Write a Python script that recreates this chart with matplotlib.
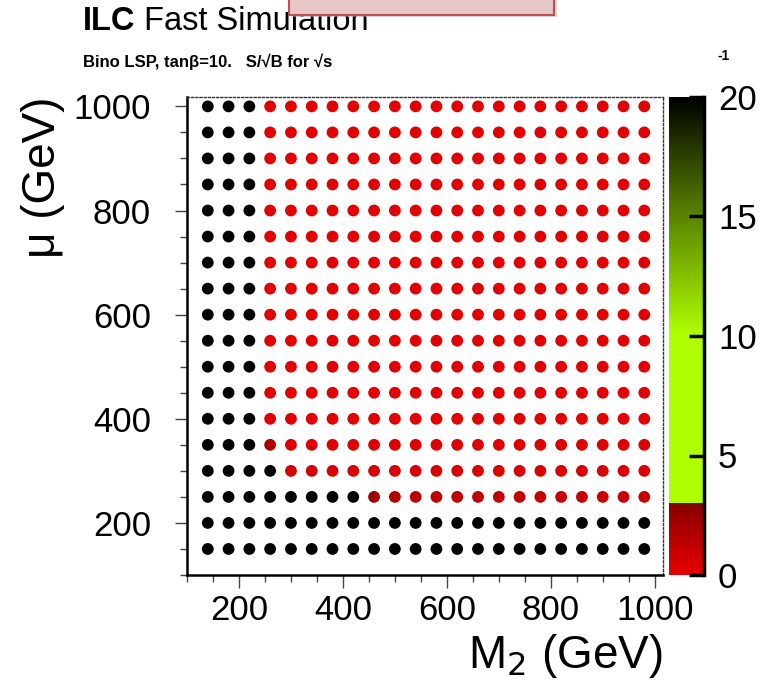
import numpy as np
import matplotlib
matplotlib.use('Agg')
import matplotlib.pyplot as plt
from matplotlib.colors import LinearSegmentedColormap, Normalize
from matplotlib.patches import Rectangle
from matplotlib.ticker import MultipleLocator

plt.rcParams['font.family'] = ['Liberation Sans', 'DejaVu Sans']

# scan grid (GeV)
m2_points = [140, 180, 220, 260, 300, 340, 380, 420, 460, 500, 540,
             580, 620, 660, 700, 740, 780, 820, 860, 900, 940, 980]
mu_points = [150, 200, 250, 300, 350, 400, 450, 500, 550,
             600, 650, 700, 750, 800, 850, 900, 950, 1000]

# S/sqrt(B) per mu row (values above 20 drawn as overflow -> black)
significance = [
    [30] * 22,                                                        # mu=150
    [30] * 22,                                                        # mu=200
    [30, 30, 30, 30, 30, 30, 30, 30, 2.2, 1.6, 1.4, 1.3, 1.3, 1.2,
     1.2, 1.2, 1.1, 1.1, 1.1, 1.0, 1.0, 1.0],                         # mu=250
    [30, 30, 30, 30, 0.6, 0.6, 0.5, 0.5, 0.5, 0.5, 0.4, 0.4, 0.4,
     0.4, 0.4, 0.4, 0.4, 0.4, 0.4, 0.4, 0.4, 0.4],                    # mu=300
    [30, 30, 30, 1.8, 0.3, 0.3, 0.3, 0.3, 0.3, 0.3, 0.3, 0.3, 0.3,
     0.3, 0.3, 0.3, 0.3, 0.3, 0.3, 0.3, 0.3, 0.3],                    # mu=350
    [30, 30, 30] + [0.2] * 19,                                        # mu=400
    [30, 30, 30] + [0.2] * 19,                                        # mu=450
    [30, 30, 30] + [0.2] * 19,                                        # mu=500
    [30, 30, 30] + [0.2] * 19,                                        # mu=550
    [30, 30, 30] + [0.2] * 19,                                        # mu=600
    [30, 30, 30] + [0.2] * 19,                                        # mu=650
    [30, 30, 30] + [0.2] * 19,                                        # mu=700
    [30, 30, 30] + [0.2] * 19,                                        # mu=750
    [30, 30, 30] + [0.2] * 19,                                        # mu=800
    [30, 30, 30] + [0.2] * 19,                                        # mu=850
    [30, 30, 30] + [0.2] * 19,                                        # mu=900
    [30, 30, 30] + [0.2] * 19,                                        # mu=950
    [30, 30, 30] + [0.2] * 19,                                        # mu=1000
]

cbar_ticks = [0, 5, 10, 15, 20]

xx, yy = np.meshgrid(m2_points, mu_points)
zz = np.array(significance)

# ROOT-like palette: red -> dark red up to 3, lime up to 10, fade to black at 20
cmap = LinearSegmentedColormap.from_list('ilc', [
    (0.0, '#e80000'),
    (0.149, '#860000'),
    (0.15, '#b0ff00'),
    (0.5, '#b0ff00'),
    (0.75, '#5a8400'),
    (1.0, '#000000'),
], N=512).with_extremes(over='black')

fig = plt.figure(figsize=(7.61, 6.88), dpi=100)
ax = fig.add_axes([187 / 761, 113 / 688, 476 / 761, 478 / 688])
cax = fig.add_axes([669 / 761, 113 / 688, 35 / 761, 478 / 688])

sc = ax.scatter(xx.ravel(), yy.ravel(), c=zz.ravel(), cmap=cmap,
                norm=Normalize(0, 20), s=72, linewidths=0, zorder=3)

ax.set_xlim(100, 1016)
ax.set_ylim(100, 1018)
ax.set_xticks([200, 400, 600, 800, 1000])
ax.set_yticks([200, 400, 600, 800, 1000])
ax.xaxis.set_minor_locator(MultipleLocator(50))
ax.yaxis.set_minor_locator(MultipleLocator(50))
ax.tick_params(which='major', length=9, width=1, color='#444444',
               labelsize=25)
ax.tick_params(which='minor', length=5, width=1, color='#444444')
ax.tick_params(axis='x', which='major', pad=5)
ax.tick_params(axis='y', which='major', pad=17)
for side in ['top', 'right']:
    ax.spines[side].set_linestyle((0, (1.5, 1.5)))
    ax.spines[side].set_linewidth(1)
    ax.spines[side].set_color('#333333')
for side in ['left', 'bottom']:
    ax.spines[side].set_linewidth(1.8)

ax.set_xlabel('M$_2$ (GeV)', fontsize=33, loc='right', labelpad=3)
ax.set_ylabel('\u03bc (GeV)', fontsize=33, loc='top', labelpad=6)

cb = fig.colorbar(sc, cax=cax)
cb.set_ticks(cbar_ticks)
cb.outline.set_visible(False)
cax.tick_params(direction='in', length=11, width=2.5, color='black',
                labelsize=25, pad=10)
cax.axvline(1, color='black', lw=2.5, clip_on=False)

# header texts
t = fig.text(83 / 761, 1 - 30 / 688, 'ILC', fontsize=23.5, fontweight='bold',
             va='baseline')
ax.annotate(' Fast Simulation', xy=(1, 0), xycoords=t, fontsize=23.5,
            va='bottom', annotation_clip=False)
fig.text(83 / 761, 1 - 67 / 688,
         'Bino LSP, tan\u03b2=10.   S/\u221aB for \u221as',
         fontsize=12, fontweight='bold', va='baseline')
fig.text(718 / 761, 1 - 60 / 688, '-1', fontsize=10, fontweight='bold',
         va='baseline')

# clipped legend box at the top, drawn over the title
fig.patches.append(Rectangle((292 / 761, 1 - 17 / 688), 265 / 761, 30 / 688,
                             transform=fig.transFigure, facecolor='#b0b0b0',
                             edgecolor='none', alpha=0.5, zorder=5))
fig.patches.append(Rectangle((289 / 761, 1 - 15 / 688), 265 / 761, 30 / 688,
                             transform=fig.transFigure, facecolor='#e6c6c6',
                             edgecolor='#c0504d', linewidth=1.5, zorder=6))

fig.savefig('out.png', dpi=100)
